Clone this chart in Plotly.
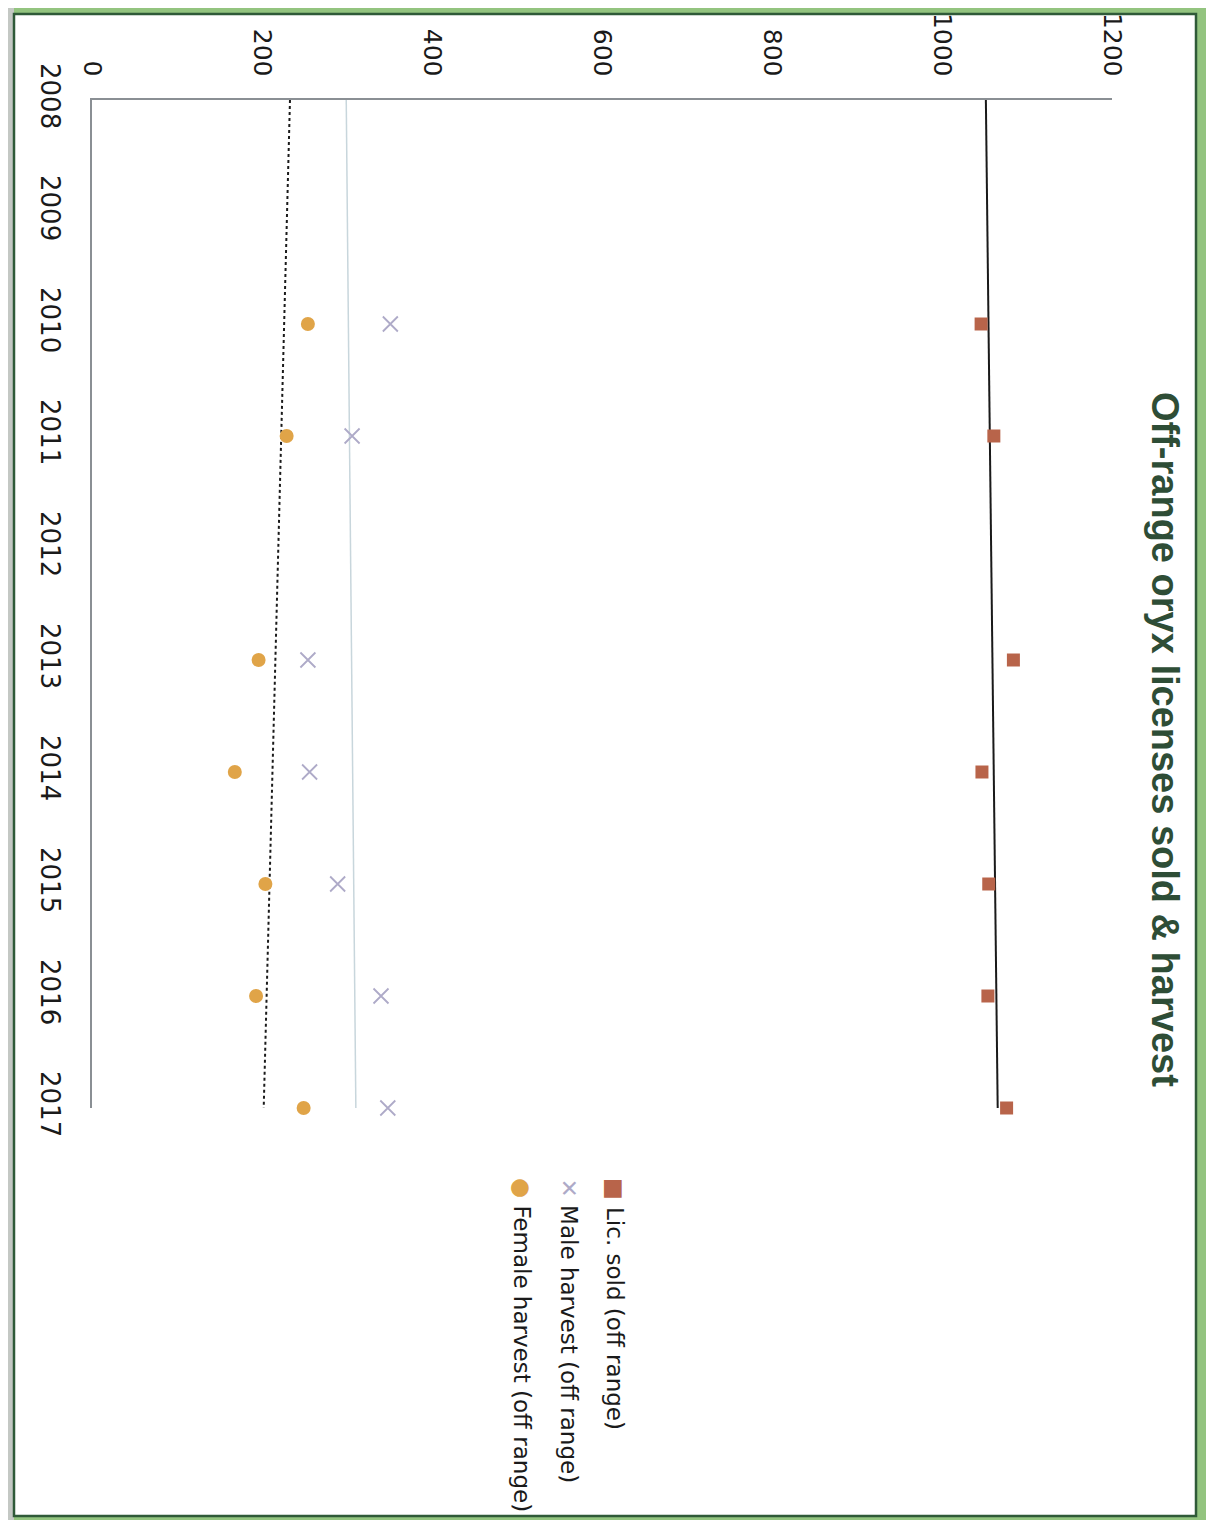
import numpy as np
import plotly.graph_objects as go

years = [2010, 2011, 2013, 2014, 2015, 2016, 2017]
lic_sold = [1046, 1061, 1084, 1047, 1055, 1054, 1076]
male_harvest = [351, 306, 254, 256, 289, 340, 348]
female_harvest = [254, 229, 196, 168, 204, 193, 249]
trend_years = [2008, 2017]
value_ticks = [0, 200, 400, 600, 800, 1000, 1200]
year_ticks = list(range(2008, 2018))

title_text = "Off-range oryx licenses sold &amp; harvest"
legend_names = ["Lic. sold (off range)", "Male harvest (off range)", "Female harvest (off range)"]

c_lic = "#b8644a"
c_male = "#aeaac8"
c_female = "#e0a448"


def trend(xs, ys, at):
    k, b = np.polyfit(xs, ys, 1)
    return [k * t + b for t in at]


fig = go.Figure()

# trend lines (linear fits), drawn as values (x) vs years (y) because the chart is rotated
fig.add_trace(go.Scatter(x=trend(years, lic_sold, trend_years), y=trend_years, mode="lines",
                         line=dict(color="#1a1a1a", width=2), showlegend=False, hoverinfo="skip"))
fig.add_trace(go.Scatter(x=trend(years, male_harvest, trend_years), y=trend_years, mode="lines",
                         line=dict(color="#c8d6dc", width=1.5), showlegend=False, hoverinfo="skip"))
fig.add_trace(go.Scatter(x=trend(years, female_harvest, trend_years), y=trend_years, mode="lines",
                         line=dict(color="#1a1a1a", width=2, dash="dot"), showlegend=False, hoverinfo="skip"))

fig.add_trace(go.Scatter(x=lic_sold, y=years, mode="markers", name=legend_names[0], cliponaxis=False,
                         marker=dict(symbol="square", size=13, color=c_lic)))
fig.add_trace(go.Scatter(x=male_harvest, y=years, mode="markers", name=legend_names[1], cliponaxis=False,
                         marker=dict(symbol="x-thin", size=15, line=dict(color=c_male, width=1.8))))
fig.add_trace(go.Scatter(x=female_harvest, y=years, mode="markers", name=legend_names[2], cliponaxis=False,
                         marker=dict(symbol="circle", size=14, color=c_female)))

# plot area in figure pixels (page has an 8px body offset)
L, T, R, B = 84, 92, 1104, 1100
W, H = R - L, B - T

fig.update_layout(
    width=1214, height=1520,
    margin=dict(l=L, r=1214 - R, t=T, b=1520 - B),
    paper_bgcolor="#93c47f",
    plot_bgcolor="rgba(0,0,0,0)",
    showlegend=False,
    font=dict(family="DejaVu Sans", color="#1a1a1a"),
    xaxis=dict(range=[0, 1200], tickvals=value_ticks, side="top", tickangle=90, automargin=False,
               showgrid=False, zeroline=False, showline=True, linecolor="#8a8f94", linewidth=1.5,
               ticks="", tickfont=dict(size=25, family="DejaVu Sans", color="#1a1a1a"), ticklabelstandoff=13),
    yaxis=dict(range=[2017, 2008], tickvals=year_ticks, tickangle=90, automargin=False,
               showgrid=False, zeroline=False, showline=True, linecolor="#8a8f94", linewidth=1.5,
               ticks="", tickfont=dict(size=26, family="DejaVu Sans", color="#1a1a1a"), ticklabelstandoff=18),
)


def px(xp):
    return (xp - L) / W


def py(yp):
    return 1 - (yp - T) / H


# page background: white sheet with dark green border, grey strip at left
fig.add_shape(type="rect", xref="paper", yref="paper", layer="below",
              x0=px(0), x1=px(6), y0=py(1520), y1=py(0),
              fillcolor="#c4c8c4", line=dict(width=0))
fig.add_shape(type="rect", xref="paper", yref="paper", layer="below",
              x0=px(6), x1=px(1188), y0=py(1508), y1=py(6),
              fillcolor="white", line=dict(color="#2f5a38", width=2.5))

fig.add_annotation(text="<b>" + title_text + "</b>", xref="paper", yref="paper",
                   x=px(1180), y=py(731), textangle=90, showarrow=False,
                   font=dict(size=38, family="Liberation Sans", color="#2e4d36"))

legend_x = [607, 561, 514]
legend_sym = ["■", "✕", "●"]
legend_col = [c_lic, c_male, c_female]
for lx, sym, col, name in zip(legend_x, legend_sym, legend_col, legend_names):
    fig.add_annotation(text=f"<span style='color:{col}'>{sym}</span> {name}",
                       xref="paper", yref="paper", x=px(lx), y=py(1168),
                       xanchor="center", yanchor="top", textangle=90, showarrow=False,
                       font=dict(size=23, family="DejaVu Sans", color="#1a1a1a"))

fig.write_html("out.html")
